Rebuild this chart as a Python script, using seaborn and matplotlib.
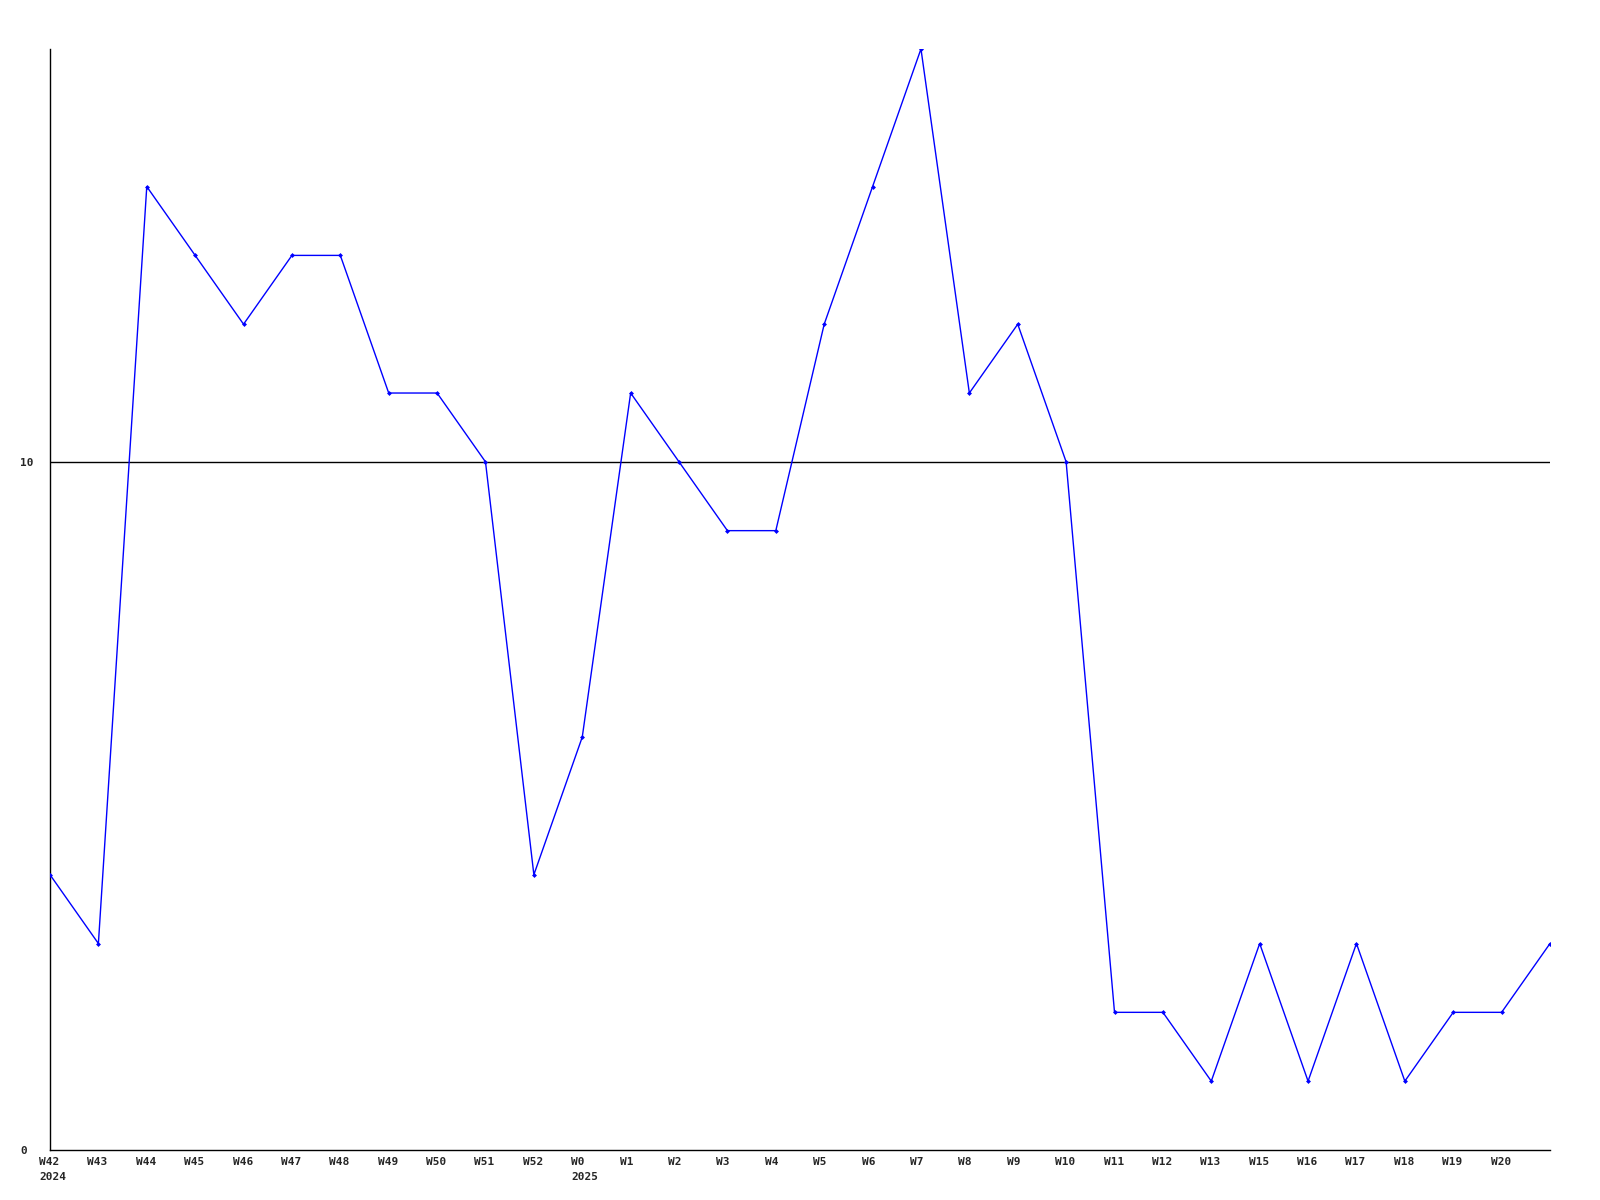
import matplotlib
matplotlib.use("Agg")
import matplotlib.pyplot as plt
import matplotlib.transforms as mtransforms
import seaborn as sns
import pandas as pd

sns.set_theme(style="white")
plt.rcParams["font.family"] = ["DejaVu Sans Mono"]

weeks = ["W42\n2024", "W43", "W44", "W45", "W46", "W47", "W48", "W49", "W50", "W51",
         "W52", "W0\n2025", "W1", "W2", "W3", "W4", "W5", "W6", "W7", "W8",
         "W9", "W10", "W11", "W12", "W13", "W15", "W16", "W17", "W18", "W19",
         "W20", "W21"]
values = [4, 3, 14, 13, 12, 13, 13, 11, 11, 10,
          4, 6, 11, 10, 9, 9, 12, 14, 16, 11,
          12, 10, 2, 2, 1, 3, 1, 3, 1, 2,
          2, 3]

df = pd.DataFrame({"idx": range(len(values)), "value": values})

fig = plt.figure(figsize=(16, 12), dpi=100)
ax = fig.add_axes([0.03125, 0.0417, 0.9375, 0.9175])

ax.axhline(10, color="black", lw=1, zorder=1)
sns.lineplot(data=df, x="idx", y="value", ax=ax, color="#0000ff", lw=1,
             marker="D", markersize=2.5, markeredgewidth=0, zorder=3)

ax.set_xlim(0, len(values) - 1)
ax.set_ylim(0, 16)
ax.set_xticks(range(len(values) - 1))
ax.set_xticklabels(weeks[:-1], fontsize=8, fontweight="bold", ha="left",
                   va="top", linespacing=1.65)
ax.set_yticks([0, 10])
ax.set_yticklabels(["0", "10"], fontsize=8, fontweight="bold", ha="left")
ax.tick_params(axis="x", length=0, pad=5)
ax.tick_params(axis="y", length=0, pad=0)

# x labels start slightly left of the tick, y labels left-aligned at the margin
xoff = mtransforms.ScaledTranslation(-11 / 100, 0, fig.dpi_scale_trans)
for lbl in ax.get_xticklabels():
    lbl.set_transform(lbl.get_transform() + xoff)
yoff = mtransforms.ScaledTranslation(-30 / 100, 0, fig.dpi_scale_trans)
for lbl in ax.get_yticklabels():
    lbl.set_transform(lbl.get_transform() + yoff)

ax.set_xlabel("")
ax.set_ylabel("")
for s in ["top", "right"]:
    ax.spines[s].set_visible(False)
for s in ["left", "bottom"]:
    ax.spines[s].set_color("black")
    ax.spines[s].set_linewidth(1)

fig.savefig("out.png", dpi=100, facecolor="white")
